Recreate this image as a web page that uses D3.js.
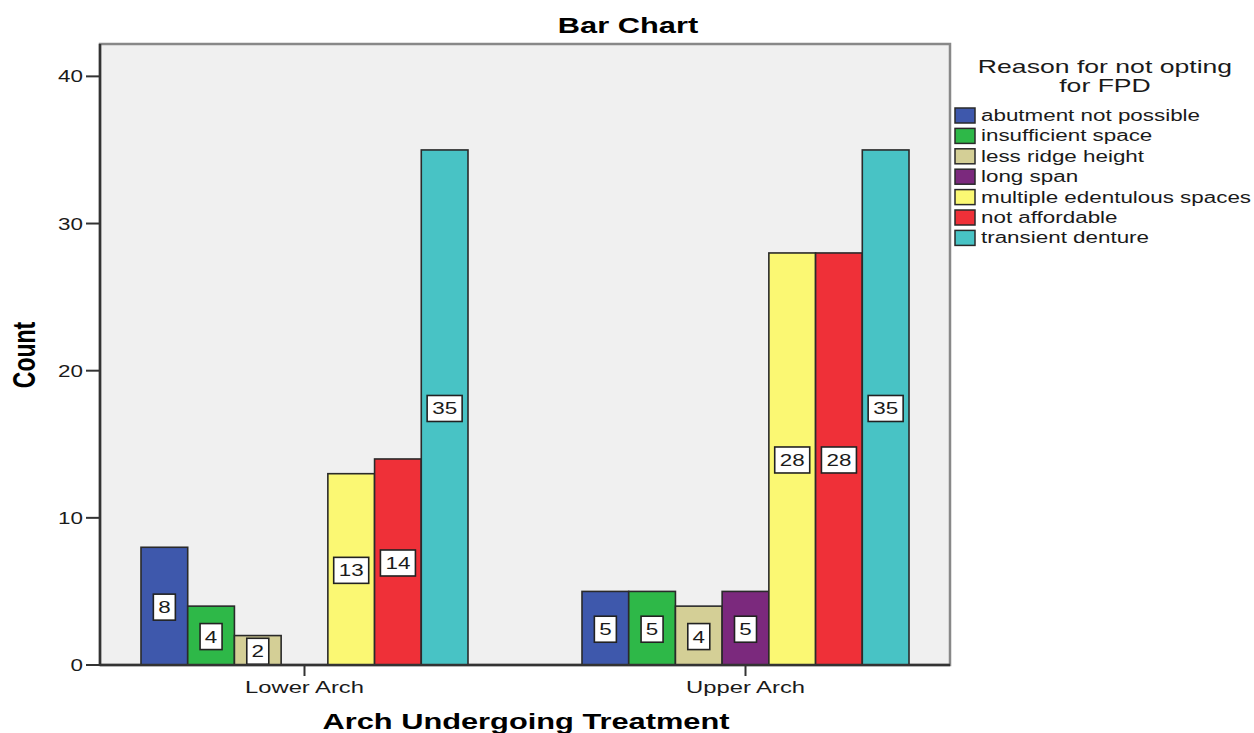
<!DOCTYPE html>
<html lang="en">
<head>
<meta charset="UTF-8">
<title>Bar Chart</title>
<script src="https://d3js.org/d3.v7.min.js"></script>
<style>
    body {margin: 0; background: white;}
    text {font-family: "Liberation Sans", Arial, sans-serif; fill: #1a1a1a;}
    .bold {font-weight: bold; fill: black;}
</style>
</head>
<body>
<div id="chart"></div>
<script>
    var categories = ["Lower Arch", "Upper Arch"],
        reasons = ["abutment not possible", "insufficient space", "less ridge height", "long span",
                   "multiple edentulous spaces", "not affordable", "transient denture"],
        lowerCounts = [8, 4, 2, 0, 13, 14, 35],
        upperCounts = [5, 5, 4, 5, 28, 28, 35],
        yTicks = [0, 10, 20, 30, 40],
        colors = ["#3e58ac", "#2eb848", "#d4cf96", "#7b297d", "#fbf873", "#ef3038", "#48c3c5"];

    var W = 1254, H = 733,
        plotL = 100, plotR = 950, plotT = 44, plotB = 665,
        sx = 1.4; // the reference text is stretched sideways

    var svg = d3.select("#chart").append("svg")
        .attr("width", W)
        .attr("height", H);

    var x = d3.scalePoint()
        .domain(categories)
        .range([plotL, plotR])
        .padding(0.4637);

    var inner = d3.scaleBand()
        .domain(reasons)
        .range([-163.5, 163.5])
        .padding(0);

    var y = d3.scaleLinear()
        .domain([0, 42.2])
        .range([plotB, plotT]);

    var color = d3.scaleOrdinal().domain(reasons).range(colors);

    // stretched text helper
    function txt(g, s, px, py, size, anchor, cls) {
        return g.append("text")
            .attr("transform", "translate(" + px + "," + py + ") scale(" + sx + ",1)")
            .attr("text-anchor", anchor)
            .attr("font-size", size)
            .attr("class", cls || null)
            .text(s);
    }

    // plot background + frame
    svg.append("rect")
        .attr("x", plotL).attr("y", plotT)
        .attr("width", plotR - plotL).attr("height", plotB - plotT)
        .attr("fill", "#f0f0f0")
        .attr("stroke", "#888")
        .attr("stroke-width", 2.5);

    txt(svg, "Bar Chart", W / 2 + 1, 33, 22, "middle", "bold");

    // y axis
    var yAxis = svg.append("g");
    yAxis.selectAll("line.tick").data(yTicks).enter().append("line")
        .attr("x1", plotL - 14).attr("x2", plotL)
        .attr("y1", function(d) { return y(d); })
        .attr("y2", function(d) { return y(d); })
        .attr("stroke", "#333").attr("stroke-width", 2);
    yTicks.forEach(function(d) {
        txt(yAxis, d, plotL - 17, y(d) + 6, 16, "end");
    });
    yAxis.append("line")
        .attr("x1", plotL).attr("x2", plotL)
        .attr("y1", plotT).attr("y2", plotB)
        .attr("stroke", "#333").attr("stroke-width", 2.5);

    svg.append("text")
        .attr("class", "bold")
        .attr("transform", "translate(35,355) rotate(-90) scale(1," + sx + ")")
        .attr("text-anchor", "middle")
        .attr("font-size", 23)
        .text("Count");

    // bars
    var rows = [lowerCounts, upperCounts];
    var groups = svg.selectAll("g.group")
        .data(categories)
        .enter().append("g")
        .attr("class", "group")
        .attr("transform", function(d) { return "translate(" + x(d) + ",0)"; });

    groups.each(function(cat, ci) {
        var g = d3.select(this);
        var data = reasons.map(function(r, i) { return {reason: r, value: rows[ci][i]}; })
            .filter(function(d) { return d.value > 0; });

        g.selectAll("rect.bar").data(data).enter().append("rect")
            .attr("class", "bar")
            .attr("x", function(d) { return inner(d.reason); })
            .attr("y", function(d) { return y(d.value); })
            .attr("width", inner.bandwidth())
            .attr("height", function(d) { return y(0) - y(d.value); })
            .attr("fill", function(d) { return color(d.reason); })
            .attr("stroke", "#2a2a2a")
            .attr("stroke-width", 1.6);

        data.forEach(function(d) {
            var cx = inner(d.reason) + inner.bandwidth() / 2,
                cy = (y(0) + y(d.value)) / 2 + 1,
                bw = String(d.value).length > 1 ? 35 : 22;
            g.append("rect")
                .attr("x", cx - bw / 2).attr("y", cy - 13)
                .attr("width", bw).attr("height", 26)
                .attr("fill", "white")
                .attr("stroke", "#222").attr("stroke-width", 1.6);
            txt(g, d.value, cx, cy + 6, 16, "middle");
        });

        // category tick + label
        g.append("line")
            .attr("x1", 0).attr("x2", 0)
            .attr("y1", plotB).attr("y2", plotB + 11)
            .attr("stroke", "#333").attr("stroke-width", 2);
        txt(g, cat, 0, plotB + 28, 17, "middle");
    });

    svg.append("line")
        .attr("x1", plotL).attr("x2", plotR)
        .attr("y1", plotB).attr("y2", plotB)
        .attr("stroke", "#333").attr("stroke-width", 2.5);

    txt(svg, "Arch Undergoing Treatment", 526, 729, 22, "middle", "bold");

    // legend
    var legend = svg.append("g");
    txt(legend, "Reason for not opting", 1105, 73, 19, "middle");
    txt(legend, "for FPD", 1105, 92, 19, "middle");

    var item = legend.selectAll("g.item").data(reasons).enter().append("g")
        .attr("class", "item")
        .attr("transform", function(d, i) { return "translate(955," + (108 + i * 20.4) + ")"; });
    item.append("rect")
        .attr("width", 20).attr("height", 15)
        .attr("fill", function(d) { return color(d); })
        .attr("stroke", "#2a2a2a").attr("stroke-width", 1.5);
    item.each(function(d) {
        txt(d3.select(this), d, 26, 13, 16, "start");
    });
</script>
</body>
</html>
